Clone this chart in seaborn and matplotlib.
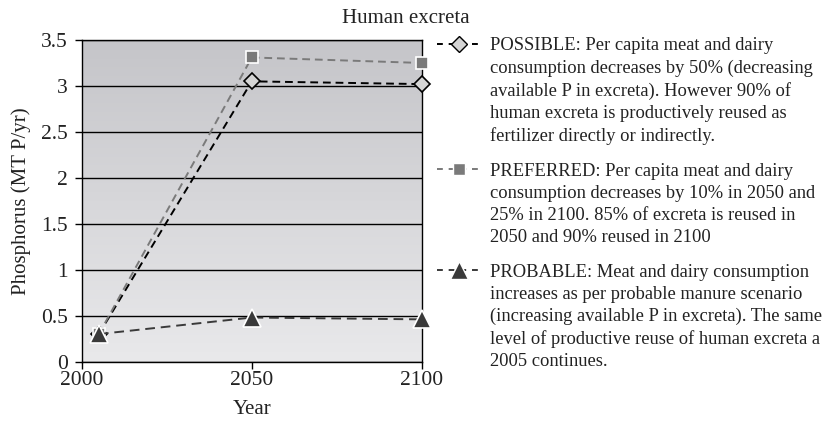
import numpy as np
import pandas as pd
import seaborn as sns
import matplotlib.pyplot as plt
from matplotlib.colors import LinearSegmentedColormap
from matplotlib.lines import Line2D

# data
years = [2005, 2050, 2100]
possible = [0.30, 3.05, 3.02]
preferred = [0.30, 3.31, 3.25]
probable = [0.30, 0.48, 0.46]

labels = [
    "POSSIBLE: Per capita meat and dairy\nconsumption decreases by 50% (decreasing\n"
    "available P in excreta). However 90% of\nhuman excreta is productively reused as\n"
    "fertilizer directly or indirectly.",
    "PREFERRED: Per capita meat and dairy\nconsumption decreases by 10% in 2050 and\n"
    "25% in 2100. 85% of excreta is reused in\n2050 and 90% reused in 2100",
    "PROBABLE: Meat and dairy consumption\nincreases as per probable manure scenario\n"
    "(increasing available P in excreta). The same\nlevel of productive reuse of human excreta a\n"
    "2005 continues.",
]

sns.set_style("white")
plt.rcParams['font.family'] = ['Liberation Serif', 'DejaVu Serif']

fig = plt.figure(figsize=(8.27, 4.21), dpi=100)
ax = fig.add_axes([0.099, 0.141, 0.411, 0.764])

# gradient background, darker at the top
cmap = LinearSegmentedColormap.from_list("bg", ["#e9e9eb", "#c5c5c9"])
ax.imshow(np.linspace(0, 1, 256)[:, None], extent=[2000, 2100, 0, 3.5],
          origin="lower", aspect="auto", cmap=cmap, zorder=0)
ax.set_xlim(2000, 2100)
ax.set_ylim(0, 3.5)

styles = [
    dict(data=possible, color="black", marker="D", mfc="#d4d4d4", mec="black", ms=8.5, dash=(4, 2.5)),
    dict(data=preferred, color="#7a7a7a", marker="s", mfc="#7a7a7a", mec="white", ms=9, dash=(4, 2.5)),
    dict(data=probable, color="#3a3a3a", marker="^", mfc="#3a3a3a", mec="white", ms=13, dash=(5, 3)),
]

handles = []
for st in styles:
    df = pd.DataFrame({"Year": years, "P": st["data"]})
    sns.lineplot(data=df, x="Year", y="P", ax=ax, color=st["color"], lw=1.4,
                 marker=st["marker"], markersize=st["ms"], markerfacecolor=st["mfc"],
                 markeredgecolor=st["mec"], markeredgewidth=1.2, dashes=False,
                 zorder=3, clip_on=False)
    ax.lines[-1].set_dashes(st["dash"])
    handles.append(Line2D([], [], color=st["color"], lw=1.4, dashes=(3, 3),
                          marker=st["marker"], markersize=st["ms"] * 0.95,
                          markerfacecolor=st["mfc"], markeredgecolor=st["mec"],
                          markeredgewidth=1.0))

ax.set_yticks(np.arange(0, 3.51, 0.5))
ax.set_yticklabels(["0", "0.5", "1", "1.5", "2", "2.5", "3", "3.5"])
ax.set_xticks([2000, 2050, 2100])
ax.yaxis.grid(True, color="black", lw=1.0)
ax.set_axisbelow(False)
for g in ax.get_ygridlines():
    g.set_zorder(1)
for s in ax.spines.values():
    s.set_color("black")
    s.set_linewidth(1.0)
ax.tick_params(axis="both", direction="out", length=5, width=1, color="black",
               labelsize=15.5, labelcolor="#222222", left=True, bottom=True)
ax.tick_params(axis="y", pad=5)
ax.tick_params(axis="x", pad=2)
ax.set_xlabel("Year", fontsize=15, color="#222222", labelpad=7)
ax.set_ylabel("Phosphorus (MT P/yr)", fontsize=15, color="#222222", labelpad=7)

fig.text(0.491, 0.957, "Human excreta", ha="center", va="center", fontsize=15, color="#222222")

leg = ax.legend(handles, labels, loc="upper left", bbox_to_anchor=(1.045, 1.008),
                frameon=False, fontsize=13.3, handlelength=2.4, handletextpad=0.45,
                labelspacing=0.97, borderaxespad=0, borderpad=0)
for t in leg.get_texts():
    t.set_color("#222222")
    t.set_linespacing(1.38)
# put handles next to the first text line
for col in leg._legend_handle_box.get_children():
    for item in col.get_children():
        item.align = "top"

fig.savefig("out.png", dpi=100)
